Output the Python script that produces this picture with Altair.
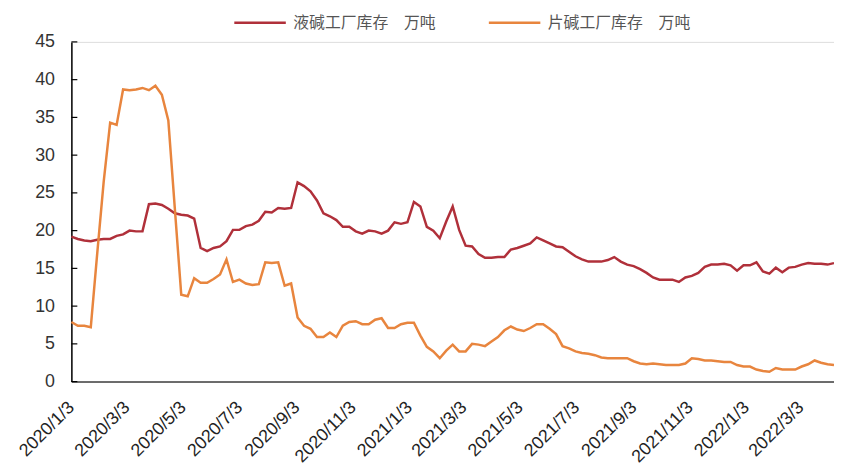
import altair as alt
import pandas as pd

# weekly observations starting 2020-01-03
start_date = "2020-01-03"
n_weeks = 119

liquid = [
    19.2, 18.9, 18.7, 18.6, 18.8, 18.9, 18.9, 19.3, 19.5, 20.0, 19.9, 19.9, 23.5, 23.6, 23.4, 22.9, 22.3, 22.1, 22.0, 21.6,
    17.7, 17.3, 17.7, 17.9, 18.6, 20.1, 20.1, 20.6, 20.8, 21.3, 22.5, 22.4, 23.0, 22.9, 23.0, 26.4, 25.9, 25.2, 24.0, 22.3,
    21.9, 21.4, 20.5, 20.5, 19.9, 19.6, 20.0, 19.9, 19.6, 20.0, 21.1, 20.9, 21.1, 23.8, 23.2, 20.5, 20.0, 19.0, 21.2, 23.2,
    20.1, 18.0, 17.9, 16.9, 16.4, 16.4, 16.5, 16.5, 17.5, 17.7, 18.0, 18.3, 19.1, 18.7, 18.3, 17.9, 17.8, 17.2, 16.6, 16.2,
    15.9, 15.9, 15.9, 16.1, 16.5, 15.9, 15.5, 15.3, 14.9, 14.4, 13.8, 13.5, 13.5, 13.5, 13.2, 13.8, 14.0, 14.4, 15.2, 15.5,
    15.5, 15.6, 15.4, 14.7, 15.4, 15.4, 15.8, 14.6, 14.3, 15.1, 14.5, 15.1, 15.2, 15.5, 15.7, 15.6, 15.6, 15.5, 15.7,
]

flake = [
    7.9, 7.4, 7.4, 7.2, 17.0, 26.5, 34.3, 34.0, 38.7, 38.6, 38.7, 38.9, 38.6, 39.2, 38.0, 34.6, 23.0, 11.5, 11.3, 13.7,
    13.1, 13.1, 13.6, 14.2, 16.2, 13.2, 13.5, 13.0, 12.8, 12.9, 15.8, 15.7, 15.8, 12.7, 13.0, 8.5, 7.4, 7.0, 5.9, 5.9,
    6.5, 5.9, 7.4, 7.9, 8.0, 7.6, 7.6, 8.2, 8.4, 7.1, 7.1, 7.6, 7.8, 7.8, 6.1, 4.6, 4.0, 3.1, 4.1, 4.9,
    4.0, 4.0, 5.0, 4.9, 4.7, 5.3, 5.9, 6.8, 7.3, 6.9, 6.7, 7.1, 7.6, 7.6, 7.0, 6.3, 4.7, 4.4, 4.0, 3.8,
    3.7, 3.5, 3.2, 3.1, 3.1, 3.1, 3.1, 2.7, 2.4, 2.3, 2.4, 2.3, 2.2, 2.2, 2.2, 2.4, 3.1, 3.0, 2.8, 2.8,
    2.7, 2.6, 2.6, 2.2, 2.0, 2.0, 1.6, 1.4, 1.3, 1.8, 1.6, 1.6, 1.6, 2.0, 2.3, 2.8, 2.5, 2.3, 2.2,
]

series_names = ["液碱工厂库存　万吨", "片碱工厂库存　万吨"]
series_colors = ["#B0303A", "#E8853E"]

# x-axis label dates (year, month, day)
label_dates = [
    (2020, 1, 3), (2020, 3, 3), (2020, 5, 3), (2020, 7, 3), (2020, 9, 3), (2020, 11, 3),
    (2021, 1, 3), (2021, 3, 3), (2021, 5, 3), (2021, 7, 3), (2021, 9, 3), (2021, 11, 3),
    (2022, 1, 3), (2022, 3, 3),
]
y_ticks = [0, 5, 10, 15, 20, 25, 30, 35, 40, 45]

dates = pd.date_range(start_date, periods=n_weeks, freq="7D").strftime("%Y-%m-%d").tolist()
df = pd.concat([
    pd.DataFrame({"date": dates, "value": liquid, "series": series_names[0]}),
    pd.DataFrame({"date": dates, "value": flake, "series": series_names[1]}),
])

x_domain = [
    alt.DateTime(year=2020, month=1, date=3, utc=True),
    alt.DateTime(year=2022, month=4, date=8, utc=True),
]
x_values = [alt.DateTime(year=y, month=m, date=d, utc=True) for (y, m, d) in label_dates]

y_axis = alt.Axis(
    values=y_ticks,
    ticks=False,
    grid=False,
    labelPadding=17,
    labelFont="Liberation Sans",
    labelFontSize=18,
    labelColor="#333333",
    domainColor="#000000",
    domainWidth=1.5,
    title=None,
)
y_scale = alt.Scale(domain=[0, 45], nice=False, zero=True)

lines = alt.Chart(df).mark_line(strokeWidth=2.5).encode(
    x=alt.X(
        "utcyearmonthdate(date):T",
        scale=alt.Scale(domain=x_domain, nice=False),
        axis=alt.Axis(
            values=x_values,
            format="%Y/%-m/%-d",
            labelAngle=-45,
            labelAlign="right",
            labelBaseline="middle",
            labelPadding=23,
            labelFont="Liberation Sans",
            labelFontSize=18,
            labelColor="#222222",
            labelOverlap=False,
            labelFlush=False,
            ticks=False,
            grid=False,
            domainColor="#404040",
            domainWidth=1.5,
            title=None,
        ),
    ),
    y=alt.Y("value:Q", scale=y_scale, axis=y_axis),
    color=alt.Color(
        "series:N",
        scale=alt.Scale(domain=series_names, range=series_colors),
        legend=alt.Legend(
            title=None,
            orient="none",
            direction="horizontal",
            legendX=163,
            legendY=-47,
            padding=0,
            symbolType="stroke",
            symbolSize=2704,
            symbolStrokeWidth=2.5,
            labelFont="Noto Sans CJK SC",
            labelFontSize=16,
            labelColor="#555555",
            labelOffset=6,
            columnPadding=47,
            labelLimit=400,
        ),
    ),
)

ticks = alt.Chart(pd.DataFrame({"value": y_ticks})).mark_rule(color="#000000", strokeWidth=1.2).encode(
    y=alt.Y("value:Q", scale=y_scale, axis=y_axis),
    x=alt.value(0),
    x2=alt.value(6),
)

chart = alt.layer(lines, ticks).properties(
    width=770,
    height=343,
    autosize=alt.AutoSizeParams(type="none"),
    padding={"left": 64, "top": 32, "right": 0, "bottom": 86},
).configure_view(stroke=None).configure(background="white")

chart.save("out.html", embed_options={"renderer": "svg", "actions": False})
